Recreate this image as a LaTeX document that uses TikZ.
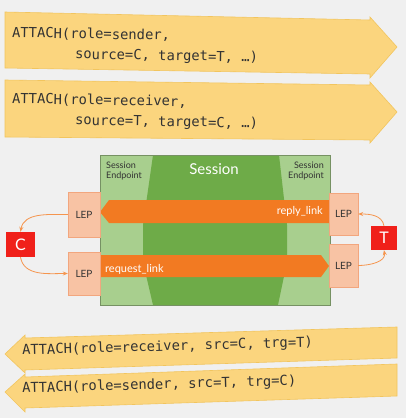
\documentclass[tikz,border=0pt]{standalone}
\usepackage{fontspec}
\setmainfont{Lato}
\setmonofont{DejaVu Sans Mono}
\usetikzlibrary{arrows.meta}
\definecolor{bg}{HTML}{F0F0F0}
\definecolor{banner}{HTML}{FBD57E}
\definecolor{bannerline}{HTML}{F2C55E}
\definecolor{lightgreen}{HTML}{A8CF8E}
\definecolor{darkgreen}{HTML}{6EAB48}
\definecolor{linkorange}{HTML}{F27A22}
\definecolor{lep}{HTML}{F8C3A4}
\definecolor{lepline}{HTML}{F2A67E}
\definecolor{cred}{HTML}{F0201A}
\definecolor{txt}{HTML}{333333}
\tikzset{
  bannerarrow/.style={fill=banner, draw=bannerline, line width=0.6pt},
  codetext/.style={font=\ttfamily\fontsize{13.8}{16}\selectfont, text=txt, anchor=west, inner sep=0pt},
  lepbox/.style={fill=lep, draw=lepline, line width=0.4pt, font=\fontsize{10}{12}\selectfont, text=txt, inner sep=0pt},
  endbox/.style={fill=cred, text=white, font=\fontsize{16}{18}\selectfont, inner sep=0pt},
  linkarrow/.style={fill=linkorange},
  linktext/.style={text=white, font=\fontsize{11}{13}\selectfont, inner sep=0pt},
  eptext/.style={text=txt, font=\fontsize{9}{10}\selectfont, inner sep=0pt, align=left},
  conn/.style={draw=linkorange!80, line width=0.8pt, -{Stealth[length=5pt,width=4pt]}}
}
\begin{document}
\begin{tikzpicture}[x=1pt,y=-1pt]
\useasboundingbox (0,0) rectangle (406,418);
\fill[bg] (0,0) rectangle (406,418);

% top banners (pointing right)
\draw[bannerarrow] (5,12) -- (370,20) -- (370,17) -- (397,47) -- (370,78) -- (370,74) -- (5,68) -- cycle;
\node[codetext, rotate=-1] (a1l1) at (12,33) {ATTACH(role=sender,};
\node[codetext, rotate=-1] (a1l2) at (75,55) {source=C, target=T, …)};
\draw[bannerarrow] (5,80) -- (370,85) -- (370,82) -- (397,112) -- (370,143) -- (370,140) -- (5,137) -- cycle;
\node[codetext, rotate=-1] (a2l1) at (12,99) {ATTACH(role=receiver,};
\node[codetext, rotate=-1] (a2l2) at (75,121) {source=T, target=C, …)};

% session box
\fill[lightgreen] (100,155) rectangle (330,305);
\fill[darkgreen] (153,155) -- (279,155) -- (287,225) -- (287,262) -- (278,305) -- (153,305) -- (143,262) -- (143,225) -- cycle;
\draw[lightgreen!70!black, line width=0.3pt] (100,155) rectangle (330,305);
\node[text=white, font=\fontsize{15}{17}\selectfont, inner sep=0pt] (sess) at (214,169) {Session};
\node[eptext, anchor=north west] (epl) at (106,162) {Session\\Endpoint};
\node[eptext, anchor=north east, align=right] (epr) at (324,162) {Session\\Endpoint};

% links
\fill[linkarrow] (100,212) -- (109,200) -- (330,200) -- (330,223) -- (109,223) -- cycle;
\node[linktext, anchor=east] (reply) at (323,211) {reply\_link};
\fill[linkarrow] (100,255) -- (321,255) -- (329,266) -- (321,277) -- (100,277) -- cycle;
\node[linktext, anchor=west] (request) at (105,269) {request\_link};

% LEPs
\node[lepbox, minimum width=32pt, minimum height=45pt] (lep1) at (84,214.5) {LEP};
\node[lepbox, minimum width=32pt, minimum height=43pt] (lep2) at (84,273.5) {LEP};
\node[lepbox, minimum width=29pt, minimum height=42pt] (lep3) at (343.5,214) {LEP};
\node[lepbox, minimum width=29pt, minimum height=43pt] (lep4) at (343.5,265.5) {LEP};

% endpoints
\node[endbox, minimum width=29pt, minimum height=25pt] (C) at (20.5,244.5) {C};
\node[endbox, minimum width=26pt, minimum height=24pt] (T) at (384,238) {T};

% connectors
\draw[conn] (lep1.west) to[out=180, in=80] (C.north);
\draw[conn] (C.south) to[out=-80, in=180] (lep2.west);
\draw[conn] (lep4.east) to[out=0, in=-80] (T.south);
\draw[conn] (T.north) to[out=100, in=0] (lep3.east);

% bottom banners (pointing left)
\draw[bannerarrow] (5,354) -- (25,335) -- (25,338) -- (397,327) -- (397,358) -- (25,370) -- (25,373) -- cycle;
\node[codetext, rotate=1.6] (b1) at (22,351) {ATTACH(role=receiver, src=C, trg=T)};
\draw[bannerarrow] (5,392) -- (25,374) -- (25,377) -- (397,364) -- (397,396) -- (25,408) -- (25,412) -- cycle;
\node[codetext, rotate=1.6] (b2) at (22,389) {ATTACH(role=sender, src=T, trg=C)};
\end{tikzpicture}
\end{document}
